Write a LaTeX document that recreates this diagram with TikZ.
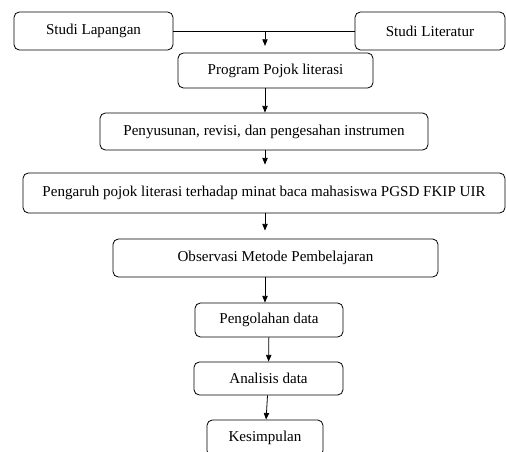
\documentclass[tikz,border=0pt]{standalone}
\usepackage{fontspec}
\setmainfont{Liberation Serif}
\usetikzlibrary{arrows.meta}

\begin{document}
\begin{tikzpicture}[x=0.75pt,y=-0.75pt,>={Triangle[length=5pt,width=4pt]},
	box/.style={draw,rounded corners=4pt,line width=0.6pt,inner sep=0pt,font=\fontsize{11.3}{13}\selectfont}]
	
	\useasboundingbox (0,0) rectangle (506,452);
	\clip (0,0) rectangle (506,452);
	
	\node[box,minimum width=119.25pt,minimum height=28.5pt] (lap) at (93.5,31) {Studi Lapangan};
	\node[box,minimum width=112.5pt,minimum height=28.5pt] (lit) at (430,31) {Studi Literatur};
	
	\node[box,minimum width=146.25pt,minimum height=26.25pt] (prog) at (275.5,70.5) {Program Pojok literasi};
	\node[box,minimum width=246pt,minimum height=27.75pt] (susun) at (264,131.5) {Penyusunan, revisi, dan pengesahan instrumen};
	\node[box,minimum width=361.5pt,minimum height=30pt] (pengaruh) at (264,193) {Pengaruh pojok literasi terhadap minat baca mahasiswa PGSD FKIP UIR};
	\node[box,minimum width=243.75pt,minimum height=28.5pt] (obs) at (275.5,258) {Observasi Metode Pembelajaran};
	\node[box,minimum width=111pt,minimum height=25.5pt] (olah) at (269,320) {Pengolahan data};
	\node[box,minimum width=111.75pt,minimum height=24.75pt] (anal) at (268.5,378.5) {Analisis data};
	\node[box,minimum width=87pt,minimum height=27pt] (kes) at (265,438) {Kesimpulan};
	
	\coordinate (j) at (265,31);
	
	\draw[line width=0.6pt] (lap.east) -- (lit.west);
	
	\path[->,line width=0.6pt]
		(j) edge[shorten >=5pt] (prog.north -| j)
		(prog.south -| j) edge (susun.north -| j)
		(susun.south -| j) edge[shorten >=6pt] (pengaruh.north -| j)
		(pengaruh.south -| j) edge[shorten >=6pt] (obs.north -| j)
		(obs.south -| j) edge (olah.north -| j)
		(olah) edge (anal)
		(anal) edge (kes);
	
\end{tikzpicture}
\end{document}
